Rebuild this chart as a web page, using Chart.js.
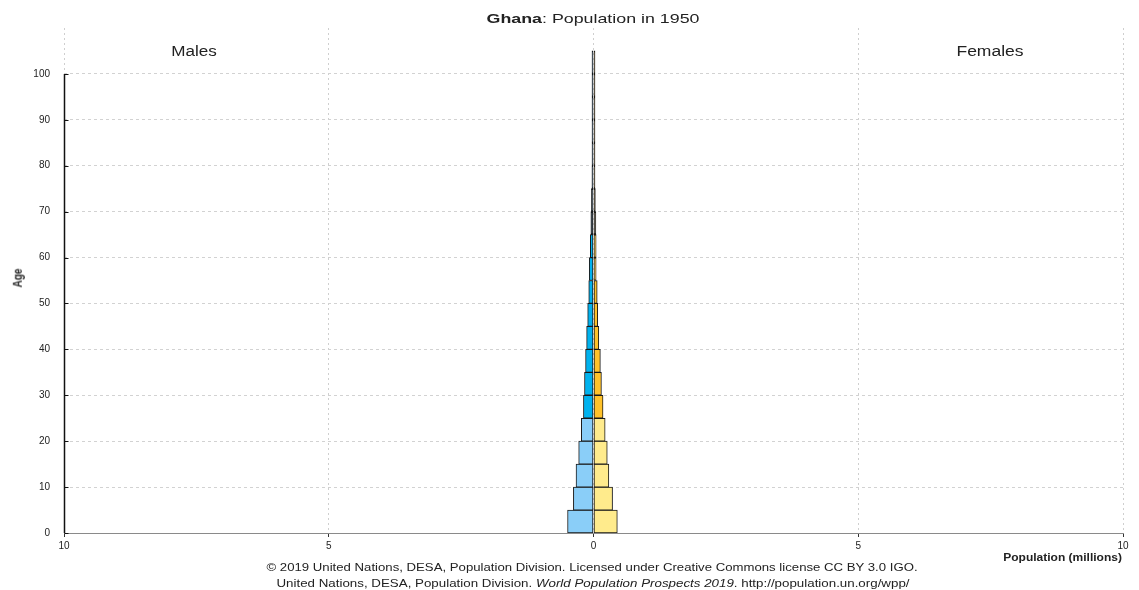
<!DOCTYPE html>
<html>
<head>
<meta charset="utf-8">
<title>Ghana: Population in 1950</title>
<script src="https://cdn.jsdelivr.net/npm/chart.js@4.4.1/dist/chart.umd.min.js"></script>
<style>
  html, body { margin: 0; padding: 0; background: #fff; }
  #wrap { position: relative; width: 1139px; height: 590px; font-family: "Liberation Sans", Arial, sans-serif; color: #222; }
  #wrap canvas { position: absolute; left: 0; top: 0; }
  .lbl { position: absolute; white-space: nowrap; line-height: 1; }
</style>
</head>
<body>
<div id="wrap">
  <canvas id="pyramid"></canvas>
  <div class="lbl" style="left:593px;top:18px;font-size:13px;transform:translate(-50%,-50%) scaleX(1.37);"><b>Ghana</b>: Population in 1950</div>
  <div class="lbl" style="left:194px;top:51px;font-size:14px;transform:translate(-50%,-50%) scaleX(1.22);">Males</div>
  <div class="lbl" style="left:990px;top:51px;font-size:14px;transform:translate(-50%,-50%) scaleX(1.25);">Females</div>
  <div class="lbl" style="left:18px;top:278px;font-size:10px;font-weight:bold;transform:translate(-50%,-50%) rotate(-90deg) scaleY(1.2);">Age</div>
  <div class="lbl" style="right:17px;top:558px;font-size:10px;font-weight:bold;transform-origin:right center;transform:translateY(-50%) scaleX(1.2);">Population (millions)</div>
  <div class="lbl" style="left:592px;top:567px;font-size:10.5px;transform:translate(-50%,-50%) scaleX(1.255);">© 2019 United Nations, DESA, Population Division. Licensed under Creative Commons license CC BY 3.0 IGO.</div>
  <div class="lbl" style="left:593px;top:583px;font-size:10.5px;transform:translate(-50%,-50%) scaleX(1.27);">United Nations, DESA, Population Division. <i>World Population Prospects 2019</i>. http://population.un.org/wpp/</div>
</div>
<script>
// Five-year age groups (lower bound of each group) and population in millions
const ageGroups = ['0-4','5-9','10-14','15-19','20-24','25-29','30-34','35-39','40-44','45-49',
                   '50-54','55-59','60-64','65-69','70-74','75-79','80-84','85-89','90-94','95-99','100+'];
const ageStart  = [0,5,10,15,20,25,30,35,40,45,50,55,60,65,70,75,80,85,90,95,100];
const males     = [0.49,0.38,0.33,0.28,0.23,0.19,0.17,0.15,0.13,0.11,0.09,0.08,0.06,0.05,0.04,0.03,0.012,0.005,0.002,0.0005,0.0001];
const females   = [0.45,0.36,0.29,0.26,0.22,0.18,0.15,0.13,0.10,0.08,0.07,0.05,0.05,0.045,0.035,0.012,0.008,0.004,0.0015,0.0004,0.0001];
const xTickValues = [-10,-5,0,5,10];
const yTickValues = [0,10,20,30,40,50,60,70,80,90,100];

// Colour bands: 0-24, 25-64, 65+
const maleColours   = { young: '#8ACEF8', adult: '#00B2EE', old: '#0b1e2c' };
const femaleColours = { young: '#FFEB8C', adult: '#FFC22A', old: '#2a1e05' };
function band(age) { return age < 25 ? 'young' : (age < 65 ? 'adult' : 'old'); }

const maleData   = ageStart.map((a, i) => ({ x: -males[i],  y: a + 2.5, group: ageGroups[i] }));
const femaleData = ageStart.map((a, i) => ({ x: females[i], y: a + 2.5, group: ageGroups[i] }));

// Solid left axis running from age 0 to 100, with short inward ticks
const ageAxisLine = {
  id: 'ageAxisLine',
  afterDatasetsDraw(chart) {
    const { ctx, scales: { x, y } } = chart;
    const px = Math.round(x.getPixelForValue(-10)) + 0.5;
    ctx.save();
    ctx.strokeStyle = '#111';
    ctx.lineWidth = 1.5;
    ctx.beginPath();
    ctx.moveTo(px, y.getPixelForValue(0));
    ctx.lineTo(px, y.getPixelForValue(100));
    ctx.stroke();
    ctx.lineWidth = 1;
    ctx.beginPath();
    yTickValues.forEach(v => {
      const py = Math.round(y.getPixelForValue(v)) + 0.5;
      ctx.moveTo(px, py);
      ctx.lineTo(px + 4, py);
    });
    ctx.stroke();
    ctx.restore();
  }
};

new Chart(document.getElementById('pyramid'), {
  type: 'bar',
  data: {
    datasets: [
      {
        label: 'Males',
        data: maleData,
        backgroundColor: ageStart.map(a => maleColours[band(a)]),
      },
      {
        label: 'Females',
        data: femaleData,
        backgroundColor: ageStart.map(a => femaleColours[band(a)]),
      }
    ]
  },
  options: {
    indexAxis: 'y',
    responsive: true,
    maintainAspectRatio: false,
    animation: false,
    grouped: false,
    barPercentage: 1,
    categoryPercentage: 1,
    minBarLength: 1.5,
    borderWidth: 1,
    borderColor: '#1a1a1a',
    borderSkipped: false,
    layout: { padding: { top: 28, right: 16, left: 0, bottom: 0 } },
    plugins: {
      legend: { display: false },
      title: { display: false },
      tooltip: { enabled: false }
    },
    scales: {
      x: {
        type: 'linear',
        min: -10,
        max: 10,
        afterFit(s) { s.height = 57; },
        afterBuildTicks(s) { s.ticks = xTickValues.map(v => ({ value: v })); },
        ticks: {
          callback: v => String(Math.abs(v)),
          font: { family: '"Liberation Sans", Arial, sans-serif', size: 10 },
          color: '#222',
          padding: 3,
          maxRotation: 0
        },
        grid: {
          color: '#cfcfcf',
          tickColor: '#333',
          tickLength: 4,
          lineWidth: 1
        },
        border: { display: true, color: '#8a8a8a', width: 1, dash: [2, 3] }
      },
      y: {
        type: 'linear',
        min: 0,
        max: 110,
        offset: false,
        afterFit(s) { s.width = 64; },
        afterBuildTicks(s) { s.ticks = yTickValues.concat([110]).map(v => ({ value: v })); },
        ticks: {
          callback: v => (v <= 100 ? String(v) : ''),
          font: { family: '"Liberation Sans", Arial, sans-serif', size: 10 },
          color: '#222',
          padding: 14
        },
        grid: {
          offset: false,
          drawTicks: false,
          color: c => (c.tick && c.tick.value > 0 && c.tick.value <= 100) ? '#d2d2d2' : 'rgba(0,0,0,0)',
          lineWidth: 1
        },
        border: { display: false, dash: [3, 3] }
      }
    }
  },
  plugins: [ageAxisLine]
});
</script>
</body>
</html>
